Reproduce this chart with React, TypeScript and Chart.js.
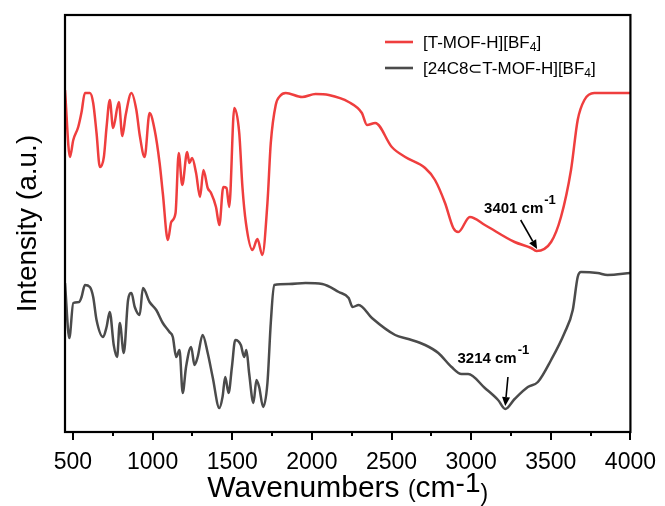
import React, { useEffect, useRef } from 'react';
import { Chart, registerables } from 'chart.js';

Chart.register(...registerables);

const FONT = '"Liberation Sans", Arial, Helvetica, sans-serif';

// ---- data ----
const seriesLabels = ['[T-MOF-H][BF', '[24C8\u2282T-MOF-H][BF'];
const seriesColors = ['#EF3E3E', '#4B4B4B'];

const redWavenumbers = [450,481,502,533,554,575,606,627,648,669,694,711,731,752,788,810,831,867,898,919,950,981,1013,1044,1064,1096,1117,1144,1164,1186,1217,1231,1248,1273,1298,1319,1346,1367,1398,1419,1444,1464,1481,1513,1544,1564,1586,1627,1658,1689,1721,1742,1773,1800,1836,1939,2023,2106,2231,2314,2346,2398,2502,2586,2711,2773,2836,2888,2919,2992,3086,3273,3377,3410,3502,3564,3627,3669,3711,3773,4000];
const redIntensity = [342,275,292,305,320,339,339,329,299,265,275,305,332,304,330,296,317,339,322,297,275,319,302,269,239,192,210,219,279,247,280,269,274,259,235,262,244,239,225,207,245,244,225,324,299,245,209,182,193,177,229,289,327,336,339,335,338,337,330,319,307,309,285,275,264,252,229,204,200,215,207,190,184,181,190,215,262,312,332,339,339];

const grayWavenumbers = [450,477,502,539,554,575,606,627,648,689,711,731,756,777,794,819,846,867,888,919,939,981,1023,1064,1106,1127,1148,1169,1189,1210,1242,1263,1283,1314,1346,1377,1419,1439,1456,1477,1498,1519,1554,1575,1589,1606,1633,1652,1669,1694,1721,1742,1763,1856,1960,2065,2169,2231,2256,2294,2377,2523,2606,2711,2794,2877,2939,2981,3086,3169,3214,3273,3356,3419,3502,3586,3638,3669,3690,3794,3856,4000];
const grayIntensity = [149,94,129,130,135,147,145,135,112,95,105,120,87,75,109,79,132,139,125,117,144,130,122,109,100,95,75,82,39,65,85,67,75,97,79,55,24,35,55,39,65,92,87,75,82,59,29,52,45,25,49,109,147,148,149,148,140,134,125,127,114,97,93,87,79,65,58,58,44,32,23,33,45,50,72,99,122,155,160,159,157,159];

const xMajorTicks = [500, 1000, 1500, 2000, 2500, 3000, 3500, 4000];
const xMinorTicks = [750, 1250, 1750, 2250, 2750, 3250, 3750];

// peak annotations: label, text anchor (x,y), arrow start, arrow end (data coords)
const peakLabels = ['3401 cm', '3214 cm'];
const peakTextAt = [[3081, 219], [2914, 69]];
const peakArrowFrom = [[3311, 212], [3231, 55]];
const peakArrowTo = [[3414, 183], [3214, 26]];

function drawArrow(ctx: CanvasRenderingContext2D, x1: number, y1: number, x2: number, y2: number) {
  const ang = Math.atan2(y2 - y1, x2 - x1);
  const head = 9;
  const half = 4;
  const bx = x2 - head * Math.cos(ang);
  const by = y2 - head * Math.sin(ang);
  ctx.beginPath();
  ctx.moveTo(x1, y1);
  ctx.lineTo(bx, by);
  ctx.lineWidth = 1.6;
  ctx.strokeStyle = '#000';
  ctx.stroke();
  ctx.beginPath();
  ctx.moveTo(x2, y2);
  ctx.lineTo(bx + half * Math.sin(ang), by - half * Math.cos(ang));
  ctx.lineTo(bx - half * Math.sin(ang), by + half * Math.cos(ang));
  ctx.closePath();
  ctx.fillStyle = '#000';
  ctx.fill();
}

const overlayPlugin = {
  id: 'overlay',
  afterDraw(chart: any) {
    const { ctx, chartArea: a, scales } = chart;
    const x = scales.x;
    const y = scales.y;
    ctx.save();

    // frame
    ctx.strokeStyle = '#000';
    ctx.lineWidth = 2.2;
    ctx.strokeRect(a.left, a.top, a.right - a.left, a.bottom - a.top);

    // ticks
    ctx.lineWidth = 2;
    xMajorTicks.forEach((v) => {
      const px = Math.round(x.getPixelForValue(v));
      ctx.beginPath();
      ctx.moveTo(px, a.bottom);
      ctx.lineTo(px, a.bottom + 8);
      ctx.stroke();
    });
    xMinorTicks.forEach((v) => {
      const px = Math.round(x.getPixelForValue(v));
      ctx.beginPath();
      ctx.moveTo(px, a.bottom);
      ctx.lineTo(px, a.bottom + 4);
      ctx.stroke();
    });

    // legend
    const legendY = [42, 68];
    seriesLabels.forEach((lab, i) => {
      ctx.beginPath();
      ctx.strokeStyle = seriesColors[i];
      ctx.lineWidth = 2.6;
      ctx.moveTo(385, legendY[i]);
      ctx.lineTo(413, legendY[i]);
      ctx.stroke();
      ctx.fillStyle = '#000';
      ctx.textBaseline = 'alphabetic';
      ctx.textAlign = 'left';
      ctx.font = `17px ${FONT}`;
      const base = legendY[i] + 6;
      let cx = 423;
      ctx.fillText(lab, cx, base);
      cx += ctx.measureText(lab).width;
      ctx.font = `12px ${FONT}`;
      ctx.fillText('4', cx, base + 3);
      cx += ctx.measureText('4').width;
      ctx.font = `17px ${FONT}`;
      ctx.fillText(']', cx, base);
    });

    // peak annotations
    peakLabels.forEach((lab, i) => {
      const tx = x.getPixelForValue(peakTextAt[i][0]);
      const ty = y.getPixelForValue(peakTextAt[i][1]);
      ctx.fillStyle = '#000';
      ctx.textAlign = 'left';
      ctx.textBaseline = 'alphabetic';
      ctx.font = `bold 15px ${FONT}`;
      ctx.fillText(lab, tx, ty);
      const w = ctx.measureText(lab).width;
      ctx.font = `bold 13px ${FONT}`;
      ctx.fillText('-1', tx + w + 1, ty - 9);
      drawArrow(
        ctx,
        x.getPixelForValue(peakArrowFrom[i][0]),
        y.getPixelForValue(peakArrowFrom[i][1]),
        x.getPixelForValue(peakArrowTo[i][0]),
        y.getPixelForValue(peakArrowTo[i][1])
      );
    });

    // x title: Wavenumbers (cm-1)
    const parts: [string, string, number][] = [
      ['Wavenumbers ', `30px ${FONT}`, 0],
      ['(', `23px ${FONT}`, 0],
      ['cm', `30px ${FONT}`, 0],
      ['-1', `28px ${FONT}`, -5],
      [')', `23px ${FONT}`, 4],
    ];
    let total = 0;
    parts.forEach(([t, f]) => {
      ctx.font = f;
      total += ctx.measureText(t).width;
    });
    let sx = (a.left + a.right) / 2 - total / 2;
    const titleBase = 497;
    ctx.fillStyle = '#000';
    ctx.textAlign = 'left';
    ctx.textBaseline = 'alphabetic';
    parts.forEach(([t, f, dy]) => {
      ctx.font = f;
      ctx.fillText(t, sx, titleBase + dy);
      sx += ctx.measureText(t).width;
    });

    // y title
    ctx.save();
    ctx.translate(36, (a.top + a.bottom) / 2);
    ctx.rotate(-Math.PI / 2);
    ctx.font = `28px ${FONT}`;
    ctx.textAlign = 'center';
    ctx.textBaseline = 'alphabetic';
    ctx.fillText('Intensity (a.u.)', 0, 0);
    ctx.restore();

    ctx.restore();
  },
};

export default function App() {
  const canvasRef = useRef<HTMLCanvasElement | null>(null);

  useEffect(() => {
    const canvas = canvasRef.current;
    if (!canvas) return;
    const toPoints = (xs: number[], ys: number[]) => xs.map((v, i) => ({ x: v, y: ys[i] }));
    const chart = new Chart(canvas, {
      type: 'line',
      data: {
        datasets: [
          {
            label: seriesLabels[0] + '4]',
            data: toPoints(redWavenumbers, redIntensity),
            borderColor: seriesColors[0],
            backgroundColor: seriesColors[0],
            borderWidth: 2.5,
            pointRadius: 0,
            cubicInterpolationMode: 'monotone',
          },
          {
            label: seriesLabels[1] + '4]',
            data: toPoints(grayWavenumbers, grayIntensity),
            borderColor: seriesColors[1],
            backgroundColor: seriesColors[1],
            borderWidth: 2.5,
            pointRadius: 0,
            cubicInterpolationMode: 'monotone',
          },
        ],
      },
      options: {
        responsive: false,
        animation: false,
        events: [],
        layout: { padding: { left: 65, top: 15, right: 32, bottom: 0 } },
        plugins: {
          legend: { display: false },
          tooltip: { enabled: false },
        },
        scales: {
          x: {
            type: 'linear',
            min: 450,
            max: 4000,
            afterBuildTicks: (scale: any) => {
              scale.ticks = xMajorTicks.map((v) => ({ value: v }));
            },
            afterFit: (scale: any) => {
              scale.height = 74;
            },
            grid: { display: false },
            border: { display: false },
            ticks: {
              autoSkip: false,
              maxRotation: 0,
              padding: 9,
              color: '#000',
              font: { family: FONT, size: 23 },
              callback: (v: any) => String(v),
            },
          },
          y: {
            type: 'linear',
            min: 0,
            max: 417,
            display: false,
          },
        },
      },
      plugins: [overlayPlugin],
    });
    return () => chart.destroy();
  }, []);

  return (
    <div style={{ position: 'absolute', left: 0, top: 0, width: 665, height: 506, background: '#fff' }}>
      <canvas ref={canvasRef} width={665} height={506} style={{ display: 'block' }} />
    </div>
  );
}
